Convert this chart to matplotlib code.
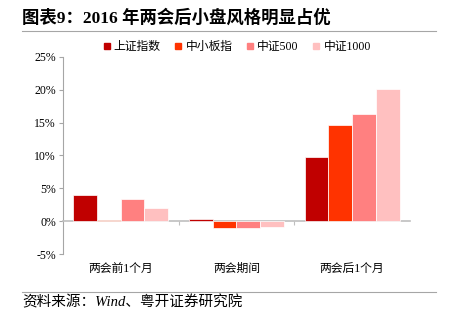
import numpy as np
import matplotlib.pyplot as plt
from matplotlib.lines import Line2D

plt.rcParams['font.family'] = ['Liberation Serif', 'Noto Sans CJK SC']

groups = ['两会前1个月', '两会期间', '两会后1个月']
series = ['上证指数', '中小板指', '中证500', '中证1000']
sh_index = [4.0, 0.3, 9.7]
sme_index = [0.2, -1.0, 14.6]
csi500 = [3.4, -1.1, 16.3]
csi1000 = [2.0, -0.9, 20.2]
colors = ['#C00000', '#FF3300', '#FF8080', '#FFC0C0']
yticks = [-5, 0, 5, 10, 15, 20, 25]

fig = plt.figure(figsize=(4.49, 3.23), dpi=100)
ax = fig.add_axes([0.140, 0.2136, 0.773, 0.61])

x = np.arange(len(groups))
w = 0.205
values = [sh_index, sme_index, csi500, csi1000]
for i, (vals, c) in enumerate(zip(values, colors)):
    ax.bar(x + (i - 1.5) * w, vals, width=w, color=c, edgecolor='white',
           linewidth=0.5, label=series[i], zorder=3)

ax.set_xlim(-0.5, 2.5)
ax.set_ylim(-5, 25)
ax.set_yticks(yticks)
ax.set_yticklabels([f'{t}%' for t in yticks], fontsize=8.5)
ax.set_xticks([0.5, 1.5])
ax.set_xticklabels([])
ax.tick_params(axis='x', length=3, color='#BFBFBF', direction='out')
ax.tick_params(axis='y', length=3, color='#A6A6A6', pad=2)

for s in ['top', 'right']:
    ax.spines[s].set_visible(False)
ax.spines['bottom'].set_position(('data', 0))
ax.spines['bottom'].set_color('#BFBFBF')
ax.spines['bottom'].set_linewidth(1.2)
ax.spines['left'].set_color('#A6A6A6')

for xi, g in zip(x, groups):
    ax.text(xi, -7.3, g, ha='center', va='center', fontsize=8.5)

handles = [Line2D([], [], marker='s', linestyle='none', color=c, markersize=5)
           for c in colors]
fig.legend(handles, series, loc='center', bbox_to_anchor=(0.525, 0.855), ncol=4,
           frameon=False, fontsize=8.5, handletextpad=0.1, columnspacing=1.0,
           handlelength=1.0)

fig.text(0.05, 0.945, '图表9：2016 年两会后小盘风格明显占优', fontsize=12.5,
         fontweight='bold', ha='left', va='center')
fig.add_artist(Line2D([0.049, 0.971], [0.905, 0.905], color='#A6A6A6', linewidth=0.8))
fig.add_artist(Line2D([0.049, 0.971], [0.096, 0.096], color='#A6A6A6', linewidth=0.8))
fig.text(0.05, 0.065, '资料来源：Wind、粤开证券研究院', fontsize=10.5,
         style='italic', ha='left', va='center')

fig.savefig('out.png', dpi=100)
